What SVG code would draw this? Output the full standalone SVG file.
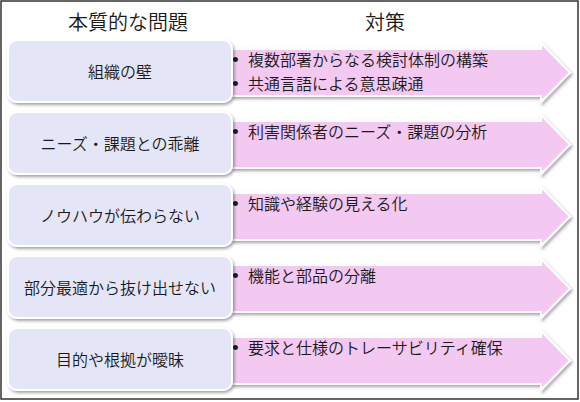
<svg xmlns="http://www.w3.org/2000/svg" width="580" height="402" viewBox="0 0 580 402">
<defs>
<filter id="sh" x="-10%" y="-10%" width="130%" height="140%">
<feDropShadow dx="1.5" dy="2" stdDeviation="1.5" flood-color="#000" flood-opacity="0.35"/>
</filter>
<path id="arr" d="M232,49 H541 V43 L570,72.5 L541,102 V96 H232 Z"/>
</defs>
<style>
text{font-family:"Meiryo UI","Noto Sans CJK JP","Noto Sans CJK SC",sans-serif;fill:#1a1a1a;font-weight:350}
.hd{font-size:20px;text-anchor:middle}
.lb{font-size:16px;text-anchor:middle}
.it{font-size:16px}
.bu{font-family:"Liberation Sans",sans-serif;font-size:19px;font-weight:400}
.box{fill:#E4E6F7;stroke:#fff;stroke-width:2;filter:url(#sh)}
.ar{fill:#F3C8F1;stroke:#fff;stroke-width:2;filter:url(#sh)}
</style>
<rect x="0" y="0" width="580" height="402" fill="#fff"/>
<rect x="1" y="1" width="577" height="398" fill="#fff" stroke="#333" stroke-width="1.5"/>
<text class="hd" x="128" y="30">本質的な問題</text>
<text class="hd" x="385" y="30">対策</text>

<g id="measure1">
<use href="#arr" class="ar"/>
<text class="bu" x="232" y="66">•</text>
<text class="it" x="248" y="66">複数部署からなる検討体制の構築</text>
<text class="bu" x="232" y="90">•</text>
<text class="it" x="248" y="90">共通言語による意思疎通</text>
</g>
<g id="measure2" transform="translate(0,72)">
<use href="#arr" class="ar"/>
<text class="bu" x="232" y="66">•</text>
<text class="it" x="248" y="66">利害関係者のニーズ・課題の分析</text>
</g>
<g id="measure3" transform="translate(0,144)">
<use href="#arr" class="ar"/>
<text class="bu" x="232" y="66">•</text>
<text class="it" x="248" y="66">知識や経験の見える化</text>
</g>
<g id="measure4" transform="translate(0,216)">
<use href="#arr" class="ar"/>
<text class="bu" x="232" y="66">•</text>
<text class="it" x="248" y="66">機能と部品の分離</text>
</g>
<g id="measure5" transform="translate(0,288)">
<use href="#arr" class="ar"/>
<text class="bu" x="232" y="66">•</text>
<text class="it" x="248" y="66">要求と仕様のトレーサビリティ確保</text>
</g>

<g id="problem1">
<rect class="box" x="8" y="40" width="224" height="62" rx="9"/>
<text class="lb" x="120" y="78">組織の壁</text>
</g>
<g id="problem2">
<rect class="box" x="8" y="112" width="224" height="62" rx="9"/>
<text class="lb" x="120" y="150">ニーズ・課題との乖離</text>
</g>
<g id="problem3">
<rect class="box" x="8" y="184" width="224" height="62" rx="9"/>
<text class="lb" x="120" y="222">ノウハウが伝わらない</text>
</g>
<g id="problem4">
<rect class="box" x="8" y="256" width="224" height="62" rx="9"/>
<text class="lb" x="120" y="294">部分最適から抜け出せない</text>
</g>
<g id="problem5">
<rect class="box" x="8" y="328" width="224" height="62" rx="9"/>
<text class="lb" x="120" y="366">目的や根拠が曖昧</text>
</g>
</svg>
